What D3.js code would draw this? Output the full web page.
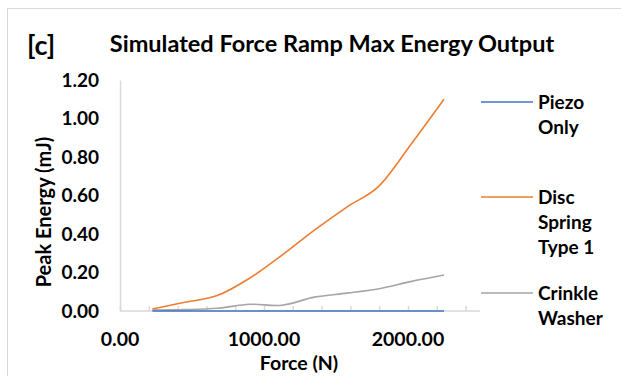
<!DOCTYPE html>
<html>
<head>
<meta charset="utf-8">
<script src="https://cdn.jsdelivr.net/npm/d3@7"></script>
<style>
  body { margin: 0; background: #fff; }
  svg { display: block; font-family: Lato, 'Open Sans', sans-serif; font-weight: bold; }
</style>
</head>
<body>
<svg></svg>
<script>
const w = 621
const h = 376

// data
const force = [225, 450, 675, 900, 1125, 1350, 1575, 1800, 2025, 2250]
const piezoOnly = [0, 0, 0, 0, 0, 0, 0, 0, 0, 0]
const discSpring = [0.01, 0.045, 0.08, 0.17, 0.29, 0.42, 0.54, 0.65, 0.87, 1.10]
const crinkleWasher = [0.005, 0.007, 0.014, 0.035, 0.03, 0.072, 0.093, 0.116, 0.154, 0.187]

const seriesNames = [['Piezo', 'Only'], ['Disc', 'Spring', 'Type 1'], ['Crinkle', 'Washer']]
const seriesColors = ['#4472C4', '#ED7D31', '#A5A5A5']
const yTicks = [0, 0.2, 0.4, 0.6, 0.8, 1.0, 1.2]
const xTicks = [0, 200, 400, 600, 800, 1000, 1200, 1400, 1600, 1800, 2000, 2200, 2400]
const xTickLabels = [0, 1000, 2000]

const svg = d3.select('svg')
  .attr('width', w)
  .attr('height', h);

// chart frame (runs off the right/bottom edge)
svg.append('rect')
  .attr('x', 7.5).attr('y', 8.5)
  .attr('width', 700).attr('height', 500)
  .attr('fill', 'none')
  .attr('stroke', '#d9d9d9');

const xScale = d3.scaleLinear().domain([0, 2500]).range([120, 480])
const yScale = d3.scaleLinear().domain([0, 1.2]).range([311, 80])

// y axis
const yAxisG = svg.append('g')
  .attr('transform', `translate(${xScale(0)},0)`)
  .call(d3.axisLeft(yScale).tickValues(yTicks).tickFormat(d3.format('.2f')).tickSize(0).tickPadding(21))
yAxisG.select('.domain').attr('stroke', '#d9d9d9').attr('stroke-width', 1.5)
yAxisG.selectAll('text')
  .attr('font-size', '19px').attr('font-family', 'Lato').attr('font-weight', 'bold').attr('fill', '#000')

// x axis: tick marks point up into the plot
const xAxisG = svg.append('g')
  .attr('transform', `translate(0,${yScale(0)})`)
  .call(d3.axisTop(xScale).tickValues(xTicks).tickSize(5).tickFormat(''))
xAxisG.select('.domain').attr('stroke', '#d9d9d9').attr('stroke-width', 1.5).attr('d', `M${xScale(0)},0H${xScale(2500)}`)
xAxisG.selectAll('.tick line').attr('stroke', '#d9d9d9').attr('stroke-width', 1.5)

svg.append('g').selectAll('text')
  .data(xTickLabels)
  .join('text')
  .attr('x', d => xScale(d))
  .attr('y', 346)
  .attr('text-anchor', 'middle')
  .attr('font-size', '19.5px')
  .text(d3.format('.2f'));

// series lines, Excel-style smoothing
const rows = force.map((f, i) => ({ f, v: [piezoOnly[i], discSpring[i], crinkleWasher[i]] }))
const line = k => d3.line()
  .x(d => xScale(d.f))
  .y(d => yScale(d.v[k]))
  .curve(d3.curveCatmullRom.alpha(0))

;[2, 1, 0].forEach(k => {
  svg.append('path')
    .attr('d', line(k)(rows))
    .attr('fill', 'none')
    .attr('stroke', seriesColors[k])
    .attr('stroke-width', 1.6)
})

// titles
svg.append('text')
  .attr('x', 27).attr('y', 55)
  .attr('font-size', '27px')
  .text('[c]');

svg.append('text')
  .attr('x', 332).attr('y', 52)
  .attr('text-anchor', 'middle')
  .attr('font-size', '23.5px')
  .text('Simulated Force Ramp Max Energy Output');

svg.append('text')
  .attr('x', 299).attr('y', 370)
  .attr('text-anchor', 'middle')
  .attr('font-size', '19.5px')
  .text('Force (N)');

svg.append('text')
  .attr('transform', 'translate(51,212) rotate(-90)')
  .attr('text-anchor', 'middle')
  .attr('font-size', '20px')
  .text('Peak Energy (mJ)');

// legend
const legendY = [102, 197, 293]
const legend = svg.append('g').selectAll('g')
  .data(seriesNames)
  .join('g')
  .attr('transform', (d, i) => `translate(481,${legendY[i]})`)

legend.append('line')
  .attr('x1', 0).attr('x2', 52)
  .attr('stroke', (d, i) => seriesColors[i])
  .attr('stroke-width', 1.6)

legend.append('text')
  .attr('font-size', '19px')
  .selectAll('tspan')
  .data(d => d)
  .join('tspan')
  .attr('x', 57)
  .attr('y', (d, i) => 6.5 + i * 25.3)
  .text(d => d);
</script>
</body>
</html>
